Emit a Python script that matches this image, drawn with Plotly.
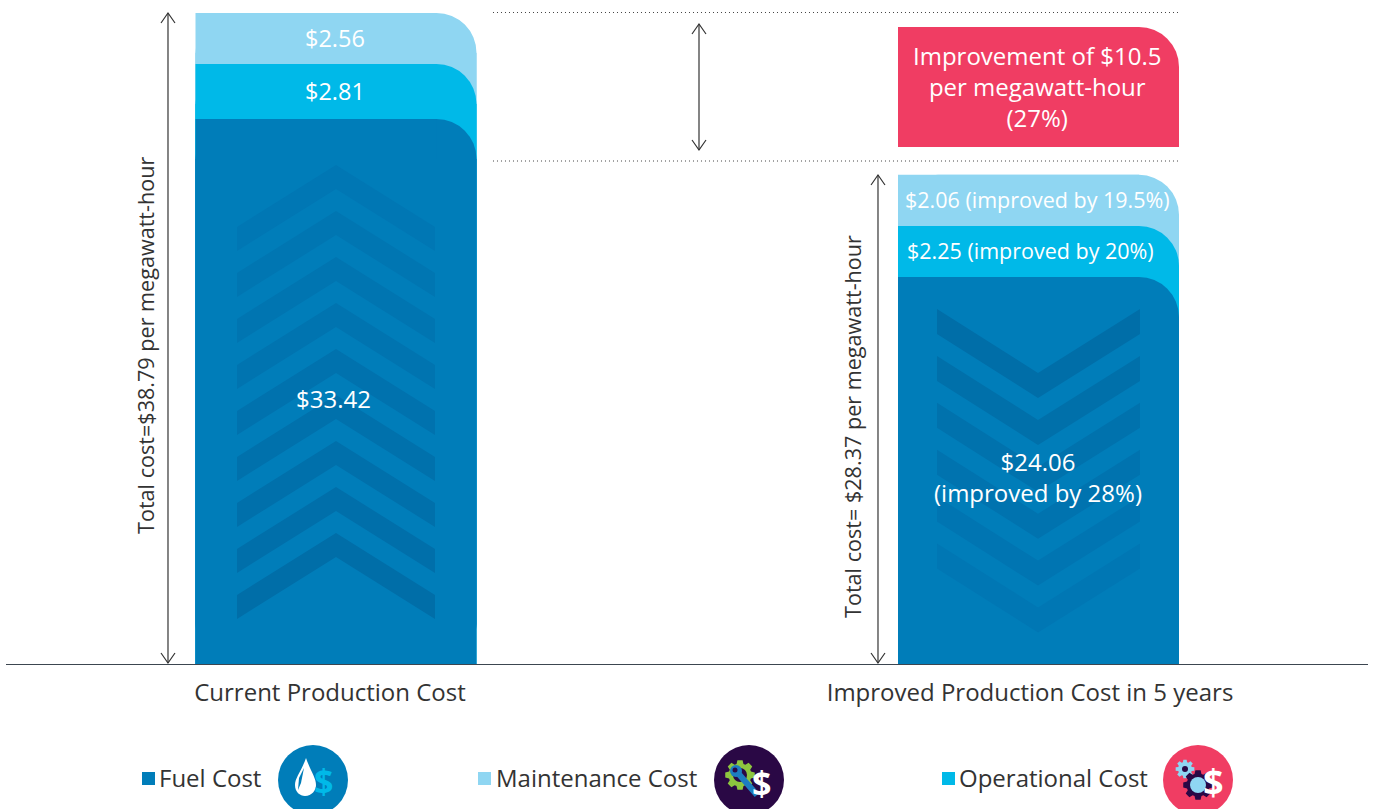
import math
import numpy as np
import plotly.graph_objects as go

# ---------- data ----------
scenarios = ["Current Production Cost", "Improved Production Cost in 5 years"]
fuel_labels = ["$33.42", "$24.06<br>(improved by 28%)"]
operational_labels = ["$2.81", "$2.25 (improved by 20%)"]
maintenance_labels = ["$2.56", "$2.06 (improved by 19.5%)"]
total_labels = ["Total cost=$38.79 per megawatt-hour", "Total cost= $28.37 per megawatt-hour"]
improvement_label = "Improvement of $10.5<br>per megawatt-hour<br>(27%)"
# drawn segment heights: the source bars are schematic, not to scale with their labels
fuel_heights = [33.42, 23.73]
operational_heights = [3.37, 3.13]
maintenance_heights = [3.13, 3.13]
improvement_height = [7.36]
improvement_base = [31.70]
legend_names = ["Fuel Cost", "Maintenance Cost", "Operational Cost"]

# ---------- style / layout constants ----------
W, H = 1375, 809
BASE_PX, LEFT_PX, RIGHT_PX = 664, 6, 1368
PX_PER_UNIT = 16.31
FUEL, OPER, MAINT, RED = "#007DB9", "#00B9E8", "#8FD6F2", "#F03D63"
PURPLE, GREEN, INK = "#2A0845", "#8DC63F", "#333333"
FONT = "Open Sans"
BAR_W, RADIUS = 281, 40
BAR_X = [336, 1038.5]
TICK_X = [330, 1030]


def fx(p):
    return (p - LEFT_PX) / (RIGHT_PX - LEFT_PX)


def fy(p):
    return (BASE_PX - p) / BASE_PX


def path(points, close=True):
    s = "M" + " L".join(f"{fx(x):.5f},{fy(y):.5f}" for x, y in points)
    return s + (" Z" if close else "")


shapes = []


def poly(points, color):
    shapes.append(dict(type="path", path=path(points), xref="paper", yref="paper",
                       fillcolor=color, line=dict(width=0), layer="above"))


def stroke(points, color=INK, width=1.2, dash="solid"):
    shapes.append(dict(type="path", path=path(points, close=False), xref="paper", yref="paper",
                       line=dict(color=color, width=width, dash=dash), layer="above"))


def circle(cx, cy, r, color):
    shapes.append(dict(type="circle", xref="paper", yref="paper", x0=fx(cx - r), x1=fx(cx + r),
                       y0=fy(cy + r), y1=fy(cy - r), fillcolor=color, line=dict(width=0), layer="above"))


def gear(cx, cy, outer, inner, teeth, color, hole_r, hole_color):
    pts = []
    for i in range(teeth):
        a = 2 * math.pi * i / teeth
        step = 2 * math.pi / teeth
        for da, r in ((-0.30, inner), (-0.17, outer), (0.17, outer), (0.30, inner)):
            t = a + da * step * 1.3
            pts.append((cx + r * math.cos(t), cy + r * math.sin(t)))
    poly(pts, color)
    circle(cx, cy, hole_r, hole_color)


def arrow(x, y0, y1):
    stroke([(x, y0), (x, y1)])
    stroke([(x - 7, y0 + 10), (x, y0), (x + 7, y0 + 10)])
    stroke([(x - 7, y1 - 10), (x, y1), (x + 7, y1 - 10)])


def mix(c0, c1, t):
    return "rgb(" + ",".join(str(round(a + (b - a) * t)) for a, b in zip(c0, c1)) + ")"


# chevrons
LIGHT_CH, DARK_CH = (0, 119, 180), (0, 110, 168)
for i in range(9):
    off = 46 * i
    poly([(237, 227 + off), (336, 165 + off), (435, 227 + off), (435, 251 + off),
          (336, 189 + off), (237, 251 + off)], mix(LIGHT_CH, DARK_CH, i / 8))
for i in range(6):
    off = 46.9 * i
    poly([(937, 309 + off), (1038, 373 + off), (1140, 309 + off), (1140, 334 + off),
          (1038, 398 + off), (937, 334 + off)], mix(DARK_CH, LIGHT_CH, i / 5))

# reference lines and arrows
for y in (12.5, 161):
    stroke([(493, y), (1180, y)], color="#444444", width=1, dash="1px,3px")
arrow(168, 13, 663)
arrow(878, 175, 663)
arrow(699, 24, 150)

# legend swatches
for x0, color in ((142, FUEL), (478, MAINT), (942, OPER)):
    poly([(x0, 772), (x0 + 13, 772), (x0 + 13, 785), (x0, 785)], color)

# icon: fuel
circle(313, 780, 35, FUEL)
shapes.append(dict(type="path", xref="paper", yref="paper", layer="above", line=dict(width=0), fillcolor="white",
                   path=(f"M{fx(306)},{fy(758)} C{fx(301)},{fy(772)} {fx(295)},{fy(778)} {fx(295)},{fy(785)} "
                         f"C{fx(295)},{fy(792)} {fx(300)},{fy(796)} {fx(305)},{fy(796)} "
                         f"C{fx(312)},{fy(796)} {fx(316)},{fy(790)} {fx(316)},{fy(785)} "
                         f"C{fx(316)},{fy(778)} {fx(311)},{fy(772)} {fx(306)},{fy(758)} Z")))
poly([(304, 768), (299, 778), (298, 790), (301, 783)], FUEL)
# icon: maintenance
circle(749, 780, 35, PURPLE)
gear(740, 775, 15, 11.5, 8, GREEN, 7, PURPLE)
stroke([(737, 772), (757, 795)], color="#1C7DC0", width=6)
circle(736, 771, 6, "#1C7DC0")
circle(735, 770, 2.5, PURPLE)
# icon: operational
circle(1198, 780, 35, RED)
gear(1185, 769, 9.5, 7, 8, MAINT, 3, PURPLE)
gear(1198, 785, 15, 11.5, 8, PURPLE, 8, MAINT)

annotations = []


def label(x, y, text, size=24, color="white", angle=0, anchor="center", weight=None):
    annotations.append(dict(xref="paper", yref="paper", x=fx(x), y=fy(y), text=text, showarrow=False,
                            xanchor=anchor, yanchor="middle", textangle=angle,
                            font=dict(family=FONT, size=size, color=color, weight=weight)))


label(335, 37.5, maintenance_labels[0], size=23.5)
label(335, 90.5, operational_labels[0], size=23.5)
label(333, 399, fuel_labels[0])
label(1037, 200, maintenance_labels[1], size=21.5)
label(1030, 250.5, operational_labels[1], size=21.5)
label(1038, 477, fuel_labels[1])
label(1037, 86.5, improvement_label)
label(145, 346, total_labels[0], size=21.6, color=INK, angle=-90)
label(852, 427, total_labels[1], size=21.6, color=INK, angle=-90)
label(157, 777, legend_names[0], color=INK, anchor="left")
label(494, 777, legend_names[1], color=INK, anchor="left")
label(957, 777, legend_names[2], color=INK, anchor="left")
label(323, 781, "$", size=34, color=OPER, weight=700)
label(761, 783, "$", size=34, color="white", weight=700)
label(1213, 781, "$", size=36, color="white", weight=700)

# ---------- bars ----------
fuel_top = np.array(fuel_heights)
oper_top = fuel_top + np.array(operational_heights)
maint_top = oper_top + np.array(maintenance_heights)

fig = go.Figure()


def rounded_bar(name, x, heights, color, base=0):
    # Plotly rounds both top corners and, with a base set, the foot too, so square-cornered
    # bars of the same colour are laid over every corner except the top right one.
    common = dict(name=name, showlegend=False, hoverinfo="skip")
    heights = np.asarray(heights, dtype=float)
    fig.add_trace(go.Bar(x=x, y=heights, base=base, width=BAR_W,
                         marker=dict(color=color, cornerradius=RADIUS, line=dict(width=0)), **common))
    fig.add_trace(go.Bar(x=[v - RADIUS / 2 for v in x], y=heights, base=base, width=BAR_W - RADIUS,
                         marker=dict(color=color, line=dict(width=0)), **common))
    fig.add_trace(go.Bar(x=x, y=heights - RADIUS / PX_PER_UNIT, base=base, width=BAR_W,
                         marker=dict(color=color, line=dict(width=0)), **common))


rounded_bar(legend_names[1], BAR_X, maint_top, MAINT)
rounded_bar(legend_names[2], BAR_X, oper_top, OPER)
rounded_bar(legend_names[0], BAR_X, fuel_top, FUEL)
rounded_bar("Improvement", BAR_X[1:], improvement_height, RED, base=improvement_base)

fig.update_layout(
    width=W, height=H, autosize=False,
    margin=dict(l=LEFT_PX, r=W - RIGHT_PX, t=0, b=H - BASE_PX, pad=0),
    barmode="overlay", paper_bgcolor="white", plot_bgcolor="white",
    font=dict(family=FONT, color=INK),
    shapes=shapes, annotations=annotations,
    xaxis=dict(range=[LEFT_PX, RIGHT_PX], tickmode="array", tickvals=TICK_X, ticktext=scenarios,
               tickfont=dict(family=FONT, size=24, color=INK), ticks="outside", ticklen=7,
               tickcolor="rgba(0,0,0,0)", showgrid=False, zeroline=False,
               showline=True, linecolor="#3C4650", linewidth=1.2, fixedrange=True),
    yaxis=dict(range=[0, BASE_PX / PX_PER_UNIT], visible=False, fixedrange=True),
)

fig.write_html("out.html", config=dict(displayModeBar=False),
               post_script="document.body.style.margin='0';document.body.style.overflow='hidden';")
